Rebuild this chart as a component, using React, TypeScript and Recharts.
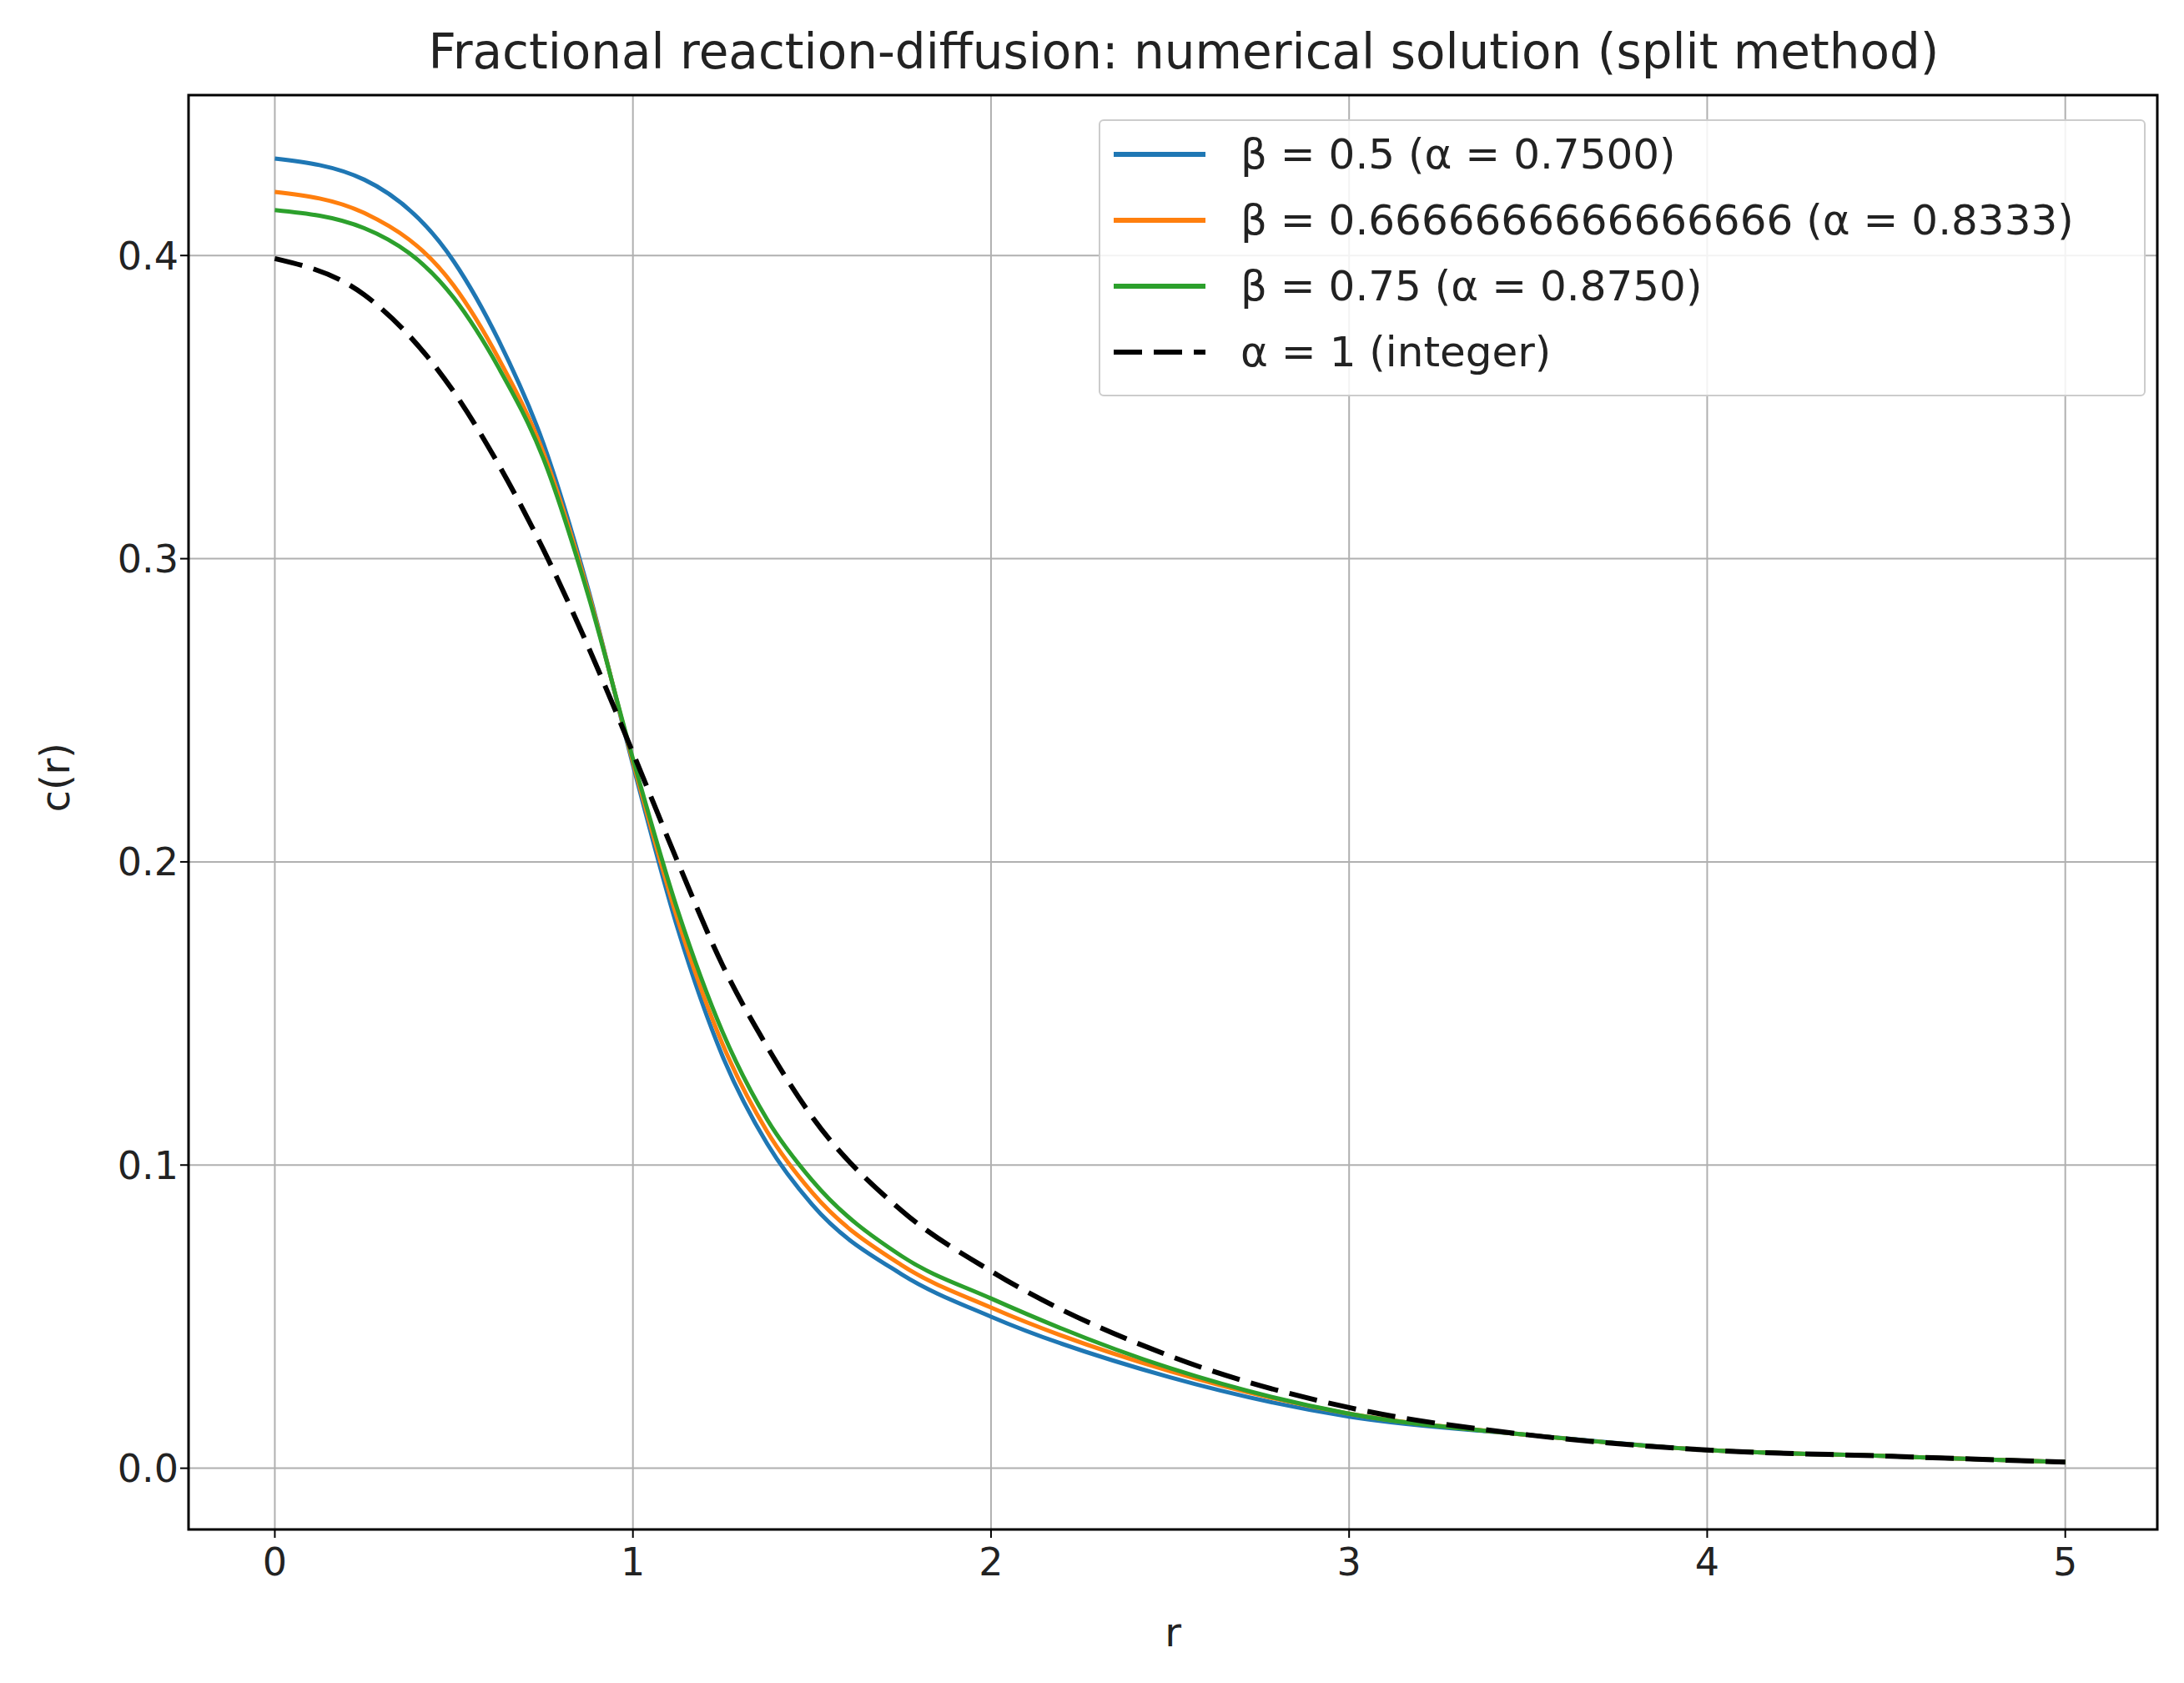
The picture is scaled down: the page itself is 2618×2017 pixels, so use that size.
import { CartesianGrid, Line, LineChart, XAxis, YAxis, ReferenceArea } from "recharts";

const rValues = [0, 0.25, 0.5, 0.625, 0.75, 0.875, 1, 1.125, 1.25, 1.375, 1.5, 1.75, 2, 2.5, 3, 3.5, 4, 4.5, 5];
const beta05 = [0.432, 0.425, 0.398, 0.372, 0.338, 0.29, 0.232, 0.178, 0.136, 0.107, 0.087, 0.064, 0.05, 0.03, 0.017, 0.011, 0.006, 0.004, 0.002];
const beta067 = [0.421, 0.414, 0.39, 0.366, 0.335, 0.289, 0.233, 0.181, 0.14, 0.111, 0.091, 0.067, 0.053, 0.032, 0.018, 0.011, 0.006, 0.004, 0.002];
const beta075 = [0.415, 0.409, 0.386, 0.363, 0.333, 0.288, 0.234, 0.184, 0.144, 0.115, 0.095, 0.07, 0.056, 0.033, 0.018, 0.011, 0.006, 0.004, 0.002];
const alpha1 = [0.399, 0.387, 0.355, 0.331, 0.303, 0.271, 0.236, 0.2, 0.166, 0.139, 0.116, 0.085, 0.065, 0.037, 0.02, 0.011, 0.006, 0.004, 0.002];

const xTicks = [0, 1, 2, 3, 4, 5];
const yTicks = [0, 0.1, 0.2, 0.3, 0.4];

const series = [
  { key: "b05", name: "β = 0.5 (α = 0.7500)", color: "#1f77b4", dash: undefined },
  { key: "b067", name: "β = 0.6666666666666666 (α = 0.8333)", color: "#ff7f0e", dash: undefined },
  { key: "b075", name: "β = 0.75 (α = 0.8750)", color: "#2ca02c", dash: undefined },
  { key: "a1", name: "α = 1 (integer)", color: "#000000", dash: "34 14" },
];

const data = rValues.map((r, i) => ({
  r,
  b05: beta05[i],
  b067: beta067[i],
  b075: beta075[i],
  a1: alpha1[i],
}));

const font = "'DejaVu Sans', sans-serif";

const LegendBox = () => (
  <div
    style={{
      position: "absolute",
      left: 1309,
      top: 135,
      width: 1255,
      height: 332,
      border: "2px solid #cccccc",
      borderRadius: 6,
      background: "rgba(255,255,255,0.85)",
      fontFamily: font,
      fontSize: 50,
      color: "#222",
      boxSizing: "border-box",
      padding: "0 0 0 16px",
    }}
  >
    {series.map((s) => (
      <div key={s.key} style={{ display: "flex", alignItems: "center", height: 79, whiteSpace: "nowrap" }}>
        <svg width={112} height={20} style={{ marginRight: 40 }}>
          <line x1={0} y1={10} x2={110} y2={10} stroke={s.color} strokeWidth={6} strokeDasharray={s.dash} />
        </svg>
        <span>{s.name}</span>
      </div>
    ))}
  </div>
);

export default function App() {
  return (
    <div style={{ position: "relative", width: 2600, height: 2000, fontFamily: font }}>
      <div
        style={{
          position: "absolute",
          top: 20,
          left: 226,
          width: 2370,
          textAlign: "center",
          fontSize: 58,
          color: "#222",
        }}
      >
        Fractional reaction-diffusion: numerical solution (split method)
      </div>
      <LineChart
        width={2600}
        height={2000}
        data={data}
        margin={{ top: 106, right: 22, bottom: 75, left: 88 }}
      >
        <CartesianGrid stroke="#b0b0b0" strokeWidth={2} horizontalValues={yTicks} verticalValues={xTicks} />
        <XAxis
          dataKey="r"
          type="number"
          domain={[-0.241, 5.257]}
          ticks={xTicks}
          allowDataOverflow
          height={100}
          tick={{ fontSize: 46, fill: "#222", dy: 10 }}
          tickSize={10}
          stroke="#000"
          strokeWidth={2}
          label={{ value: "r", position: "insideBottom", offset: -40, fontSize: 48, fill: "#222" }}
        />
        <YAxis
          type="number"
          domain={[-0.0202, 0.4529]}
          ticks={yTicks}
          allowDataOverflow
          width={130}
          tickFormatter={(v: number) => v.toFixed(1)}
          tick={{ fontSize: 46, fill: "#222" }}
          tickSize={10}
          stroke="#000"
          strokeWidth={2}
          label={{ value: "c(r)", angle: -90, position: "insideLeft", offset: -30, fontSize: 48, fill: "#222" }}
        />
        {series.map((s) => (
          <Line
            key={s.key}
            dataKey={s.key}
            name={s.name}
            type="monotone"
            stroke={s.color}
            strokeWidth={s.dash ? 6 : 5}
            strokeDasharray={s.dash}
            dot={false}
            isAnimationActive={false}
          />
        ))}
        <ReferenceArea
          x1={-0.241}
          x2={5.257}
          y1={-0.0202}
          y2={0.4529}
          fill="none"
          stroke="#000"
          strokeWidth={3}
          ifOverflow="visible"
        />
      </LineChart>
      <LegendBox />
    </div>
  );
}
